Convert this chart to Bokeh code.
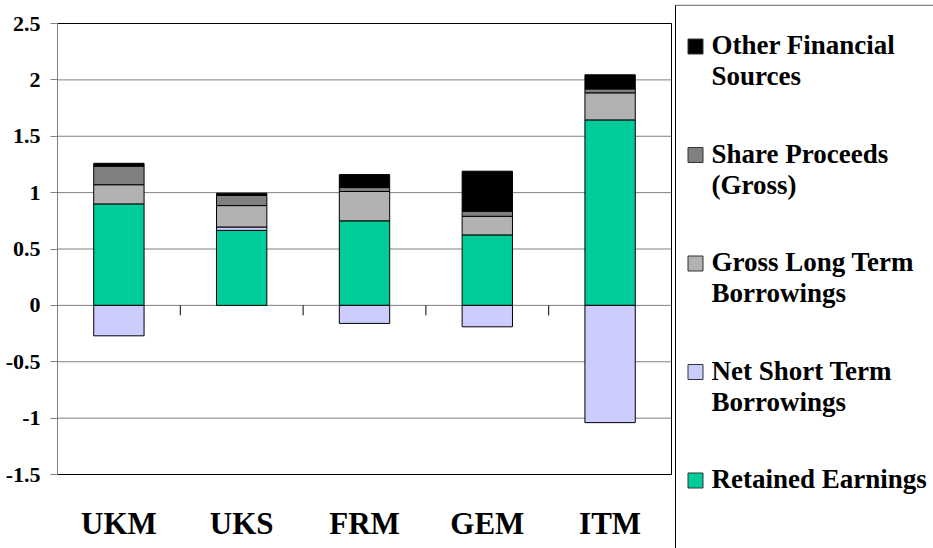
import textwrap
import numpy as np
from bokeh.plotting import figure
from bokeh.models import Range1d, FixedTicker
from bokeh.core.properties import value
from bokeh.embed import file_html
from bokeh.resources import INLINE

# ---- data ----
categories = ["UKM", "UKS", "FRM", "GEM", "ITM"]
retained_earnings = [0.90, 0.665, 0.75, 0.625, 1.645]
net_short_term = [-0.27, 0.03, -0.16, -0.19, -1.04]
gross_long_term = [0.17, 0.19, 0.26, 0.165, 0.24]
share_proceeds = [0.165, 0.09, 0.035, 0.045, 0.035]
other_financial = [0.025, 0.02, 0.115, 0.355, 0.125]
y_ticks = [-1.5, -1, -0.5, 0, 0.5, 1, 1.5, 2, 2.5]

series_names = ["Retained Earnings", "Net Short Term Borrowings",
                "Gross Long Term Borrowings", "Share Proceeds (Gross)",
                "Other Financial Sources"]
series_values = [retained_earnings, net_short_term, gross_long_term,
                 share_proceeds, other_financial]
series_colors = ["#00CC99", "#CCCCFF", "#B2B2B2", "#808080", "#000000"]

FONT = "Times"

# ---- layout geometry (screen pixels) ----
W, H = 933, 548
FRAME_L, FRAME_T = 57, 4           # frame covers the plot and legend areas
PLOT_R, PLOT_T, PLOT_B = 671, 23, 474
LEG_L = 675

n = len(categories)
ymin, ymax = y_ticks[0], y_ticks[-1]
ppu = (PLOT_B - PLOT_T) / (ymax - ymin)      # pixels per y unit
ppx = (PLOT_R - FRAME_L) / n                 # pixels per category


def X(px):
    return (px - FRAME_L) / ppx


def Y(py):
    return ymax - (py - PLOT_T) / ppu


p = figure(width=W, height=H, output_backend="svg", toolbar_location=None,
           x_range=Range1d(0, X(W)), y_range=Range1d(Y(H), Y(FRAME_T)),
           min_border_left=FRAME_L, min_border_right=0, min_border_top=FRAME_T,
           min_border_bottom=0, background_fill_color="white",
           border_fill_color="white")
p.title.visible = False
p.xaxis.visible = False
p.xgrid.visible = False
p.ygrid.visible = False
p.outline_line_color = None

xs = np.arange(n) + 0.5

# gridlines across the plot area
yt = np.array(y_ticks, dtype=float)
p.segment(x0=np.zeros(len(yt)), x1=np.full(len(yt), n), y0=yt, y1=yt,
          line_color="#808080", line_width=1)

# stacked bars (positives stack up, negatives stack down)
pos_base = np.zeros(n)
neg_base = np.zeros(n)
for name, vals, col in zip(series_names, series_values, series_colors):
    v = np.array(vals, dtype=float)
    bottom = np.where(v >= 0, pos_base, neg_base)
    top = bottom + v
    pos_base = np.where(v >= 0, top, pos_base)
    neg_base = np.where(v < 0, top, neg_base)
    p.vbar(x=xs, width=0.41, bottom=bottom, top=top, fill_color=col,
           line_color="black", line_width=1)

# plot-area border
p.segment(x0=[0, 0, n, 0], x1=[0, n, n, n], y0=[ymin, ymin, ymin, ymax],
          y1=[ymax, ymin, ymax, ymax], line_color="black", line_width=1)

# category boundary ticks hanging below the zero line
bx = np.arange(1, n).astype(float)
p.segment(x0=bx, x1=bx, y0=np.zeros(n - 1), y1=np.full(n - 1, -10 / ppu),
          line_color="black", line_width=1)

# category labels (baseline at ~533 px, drawn centred)
p.text(x=xs, y=np.full(n, Y(533 - 0.3375 * 31)), text=categories,
       text_font=value(FONT), text_font_style="bold", text_font_size="31px",
       text_align="center", text_baseline="middle", text_color="black")

# y axis
p.yaxis.ticker = FixedTicker(ticks=y_ticks)
p.yaxis.major_label_overrides = {t: f"{t:g}" for t in y_ticks}
p.yaxis.axis_line_color = None
p.yaxis.major_tick_line_color = "#808080"
p.yaxis.major_tick_out = 7
p.yaxis.major_tick_in = 0
p.yaxis.minor_tick_line_color = None
p.yaxis.major_label_text_font = FONT
p.yaxis.major_label_text_font_style = "bold"
p.yaxis.major_label_text_font_size = "22px"
p.yaxis.major_label_text_color = "black"
p.yaxis.major_label_standoff = 10

# ---- legend box ----
p.segment(x0=[X(LEG_L)], x1=[X(LEG_L)], y0=[Y(H)], y1=[Y(FRAME_T + 0.5)],
          line_color="black", line_width=1)
p.segment(x0=[X(LEG_L)], x1=[X(W)], y0=[Y(FRAME_T + 0.75)], y1=[Y(FRAME_T + 0.75)],
          line_color="#808080", line_width=1.5)

leg_names = series_names[::-1]
leg_colors = series_colors[::-1]
centers_px = 46 + np.arange(len(leg_names)) * 108.5
p.rect(x=np.full(len(leg_names), X(695)), y=Y(centers_px),
       width=15 / ppx, height=15 / ppu,
       fill_color=leg_colors, line_color="#333333", line_width=1)
tx, ty, tt = [], [], []
for c, name in zip(centers_px, leg_names):
    for k, line in enumerate(textwrap.wrap(name, 17)):
        tx.append(X(711))
        ty.append(Y(c + 8 + k * 31 - 0.3375 * 27))
        tt.append(line)
p.text(x=tx, y=ty, text=tt, text_font=value(FONT), text_font_style="bold",
       text_font_size="27px", text_baseline="middle", text_align="left",
       text_color="black")

open("out.html", "w").write(file_html(p, INLINE))
